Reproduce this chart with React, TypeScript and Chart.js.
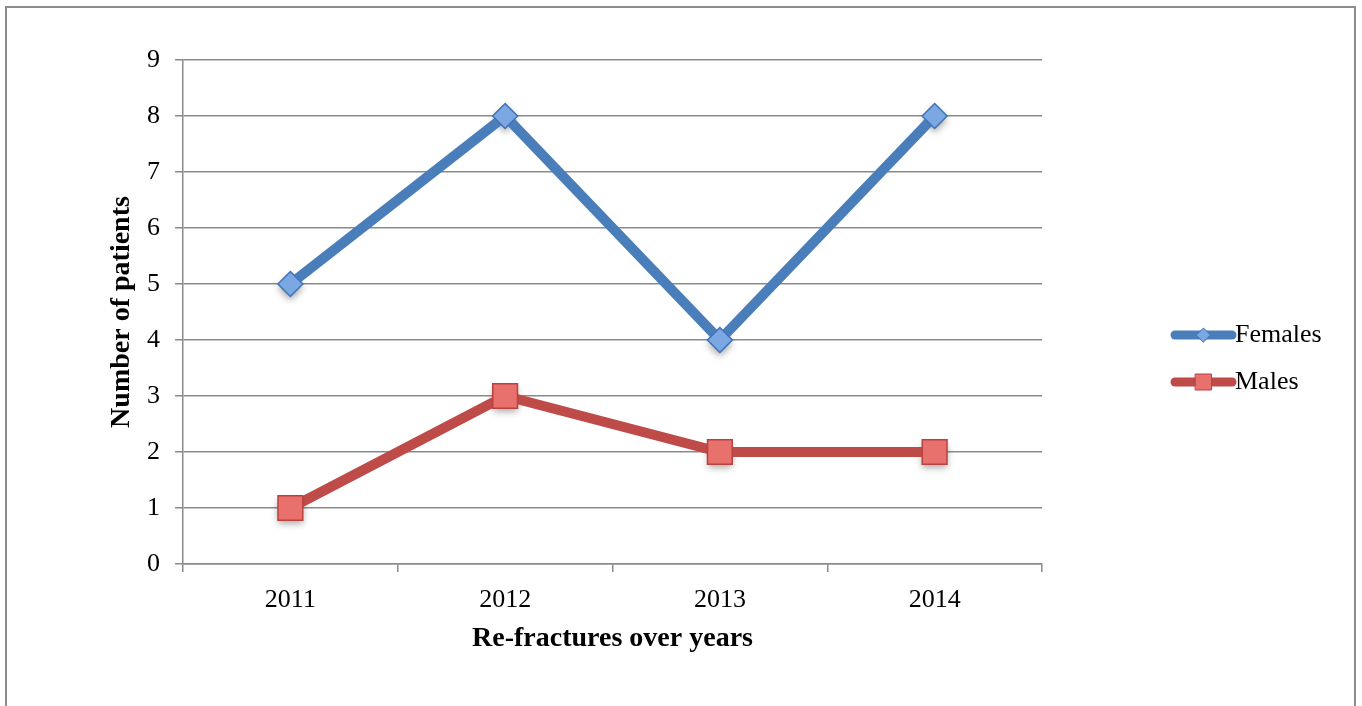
import React, { useEffect, useRef } from "react";
import { Chart, registerables } from "chart.js";

Chart.register(...registerables);

const categories = ["2011", "2012", "2013", "2014"];
const females = [5, 8, 4, 8];
const males = [1, 3, 2, 2];
const seriesNames = ["Females", "Males"];
const yTicks = [0, 1, 2, 3, 4, 5, 6, 7, 8, 9];
const xTitle = "Re-fractures over years";
const yTitle = "Number of patients";

const FONT = "'Liberation Serif', 'Times New Roman', serif";
const GRID = "#8a8a8a";

const framePlugin = {
  id: "frame",
  beforeDraw(chart: any) {
    const ctx = chart.ctx;
    ctx.save();
    ctx.fillStyle = "#ffffff";
    ctx.fillRect(0, 0, chart.width, chart.height);
    ctx.strokeStyle = "#8c8c8c";
    ctx.lineWidth = 2;
    ctx.strokeRect(6, 7, chart.width - 13, chart.height + 20);
    ctx.restore();
  },
};

const shadowPlugin = {
  id: "markerShadow",
  beforeDatasetDraw(chart: any, args: any) {
    const meta = args.meta;
    const ds = chart.data.datasets[args.index];
    const ctx = chart.ctx;
    const off = 10000;
    ctx.save();
    ctx.shadowColor = "rgba(0,0,0,0.35)";
    ctx.shadowBlur = 7;
    ctx.shadowOffsetX = off;
    ctx.shadowOffsetY = 4;
    ctx.fillStyle = "#000";
    meta.data.forEach((pt: any) => {
      const x = pt.x - off;
      const y = pt.y;
      const r = ds.pointRadius;
      ctx.beginPath();
      if (ds.pointStyle === "rectRot") {
        ctx.moveTo(x - r, y);
        ctx.lineTo(x, y - r);
        ctx.lineTo(x + r, y);
        ctx.lineTo(x, y + r);
        ctx.closePath();
      } else {
        const s = Math.SQRT1_2 * r;
        ctx.rect(x - s, y - s, 2 * s, 2 * s);
      }
      ctx.fill();
    });
    ctx.restore();
  },
};

const legendPlugin = {
  id: "sideLegend",
  afterDraw(chart: any) {
    const ctx = chart.ctx;
    const area = chart.chartArea;
    ctx.save();
    chart.data.datasets.forEach((ds: any, i: number) => {
      const y = area.top + 275 + i * 47;
      const x0 = area.right + 133;
      const x1 = area.right + 190;
      ctx.strokeStyle = ds.borderColor;
      ctx.lineWidth = 9;
      ctx.lineCap = "round";
      ctx.beginPath();
      ctx.moveTo(x0, y);
      ctx.lineTo(x1, y);
      ctx.stroke();
      const cx = (x0 + x1) / 2;
      ctx.fillStyle = ds.pointBackgroundColor;
      ctx.strokeStyle = ds.pointBorderColor;
      ctx.lineWidth = 1;
      ctx.beginPath();
      if (ds.pointStyle === "rectRot") {
        const r = 7;
        ctx.moveTo(cx - r, y);
        ctx.lineTo(cx, y - r);
        ctx.lineTo(cx + r, y);
        ctx.lineTo(cx, y + r);
        ctx.closePath();
      } else {
        const s = 8;
        ctx.rect(cx - s, y - s, 2 * s, 2 * s);
      }
      ctx.fill();
      ctx.stroke();
      ctx.fillStyle = "#000000";
      ctx.font = `26px ${FONT}`;
      ctx.textAlign = "left";
      ctx.textBaseline = "middle";
      ctx.fillText(ds.label, x1 + 3, y);
    });
    ctx.restore();
  },
};

export default function App() {
  const ref = useRef<HTMLCanvasElement | null>(null);
  useEffect(() => {
    if (!ref.current) return;
    const chart = new Chart(ref.current, {
      type: "line",
      data: {
        labels: categories,
        datasets: [
          {
            label: seriesNames[0],
            data: females,
            borderColor: "#4a7ebb",
            borderWidth: 10,
            pointStyle: "rectRot",
            pointRadius: 12.5,
            pointHoverRadius: 12.5,
            pointBackgroundColor: "#7ba7e2",
            pointBorderColor: "#3f72b6",
            pointBorderWidth: 1.5,
            tension: 0,
          } as any,
          {
            label: seriesNames[1],
            data: males,
            borderColor: "#be4b48",
            borderWidth: 10,
            pointStyle: "rect",
            pointRadius: 17.5,
            pointHoverRadius: 17.5,
            pointBackgroundColor: "#e8706d",
            pointBorderColor: "#b7423f",
            pointBorderWidth: 1.5,
            tension: 0,
          } as any,
        ],
      },
      options: {
        responsive: true,
        maintainAspectRatio: false,
        animation: false,
        layout: { padding: { left: 0, right: 320, top: 60, bottom: 0 } },
        plugins: {
          legend: { display: false },
          tooltip: { enabled: false },
        },
        scales: {
          x: {
            offset: true,
            afterFit: (s: any) => {
              s.height = 142;
            },
            grid: {
              offset: true,
              drawOnChartArea: false,
              color: GRID,
              lineWidth: 1.5,
              tickLength: 8,
            },
            border: { color: GRID, width: 1.5 },
            ticks: {
              color: "#000",
              padding: 13,
              font: { family: FONT, size: 26 },
            },
            title: {
              display: true,
              text: xTitle,
              color: "#000",
              font: { family: FONT, size: 28, weight: "bold" },
              padding: { top: 0, bottom: 50 },
            },
          },
          y: {
            min: 0,
            max: 9,
            afterFit: (s: any) => {
              s.width = 183;
            },
            afterBuildTicks: (s: any) => {
              s.ticks = yTicks.map((v) => ({ value: v }));
            },
            grid: {
              color: GRID,
              lineWidth: 1.5,
              tickLength: 8,
            },
            border: { color: GRID, width: 1.5 },
            ticks: {
              color: "#000",
              padding: 15,
              font: { family: FONT, size: 26 },
            },
            title: {
              display: true,
              text: yTitle,
              color: "#000",
              font: { family: FONT, size: 28, weight: "bold" },
              padding: { top: 105, bottom: 0 },
            },
          },
        },
      },
      plugins: [framePlugin, shadowPlugin, legendPlugin],
    });
    return () => chart.destroy();
  }, []);
  return (
    <div style={{ position: "fixed", left: 0, top: 0, width: 1362, height: 706 }}>
      <canvas ref={ref} />
    </div>
  );
}
